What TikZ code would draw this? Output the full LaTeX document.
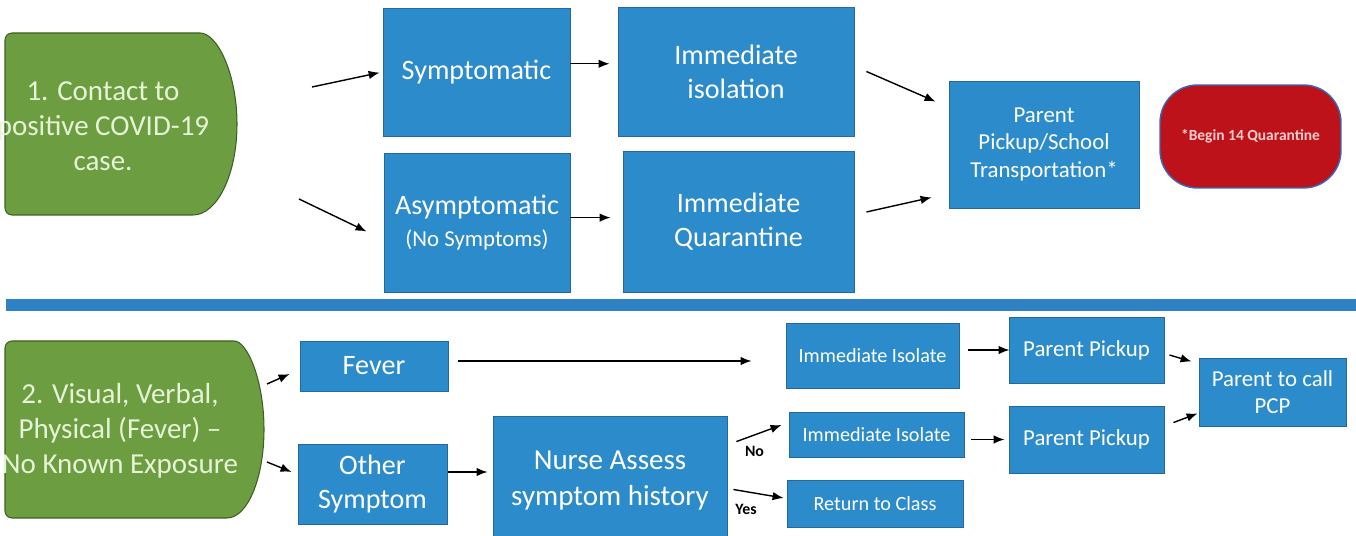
\documentclass[tikz,border=0pt]{standalone}
\usepackage{fontspec}
\setmainfont{Carlito}
\usepackage{xcolor}
\usepackage{tikz}
\usetikzlibrary{
	arrows.meta,shapes,calc
}

\definecolor{boxblue}{RGB}{44,139,203}
\definecolor{boxedge}{RGB}{36,104,158}
\definecolor{startgreen}{RGB}{108,157,64}
\definecolor{startedge}{RGB}{62,95,36}
\definecolor{greentext}{RGB}{230,243,214}
\definecolor{stopred}{RGB}{190,18,26}
\definecolor{stopedge}{RGB}{52,104,190}
\definecolor{stoptext}{RGB}{250,205,205}
\definecolor{barblue}{RGB}{46,130,196}

\begin{document}
\begin{tikzpicture}[x=0.02cm,y=-0.02cm,
	blk/.style={draw=boxedge,line width=0.5pt,fill=boxblue,text=white,
		inner sep=0pt,align=center,font=\fontsize{16}{19.5}\selectfont},
	blksmall/.style={blk,font=\fontsize{13}{15.6}\selectfont},
	blktiny/.style={blk,font=\fontsize{11.5}{14}\selectfont},
	start/.style={draw=startedge,line width=0.6pt,fill=startgreen},
	starttext/.style={text=greentext,align=center,inner sep=0pt,
		font=\fontsize{16.5}{20}\selectfont},
	lbl/.style={font=\fontsize{9}{11}\selectfont\bfseries,inner sep=0pt},
	>={Latex[length=2.2mm,width=1.7mm]}]
	\useasboundingbox (0,0) rectangle (1356,536);
	% start shapes
	\draw[start,rounded corners=4pt] (5,124) -- (5,33) -- (193,33)
		[sharp corners] arc[start angle=-90,end angle=90,x radius=44,y radius=91]
		[rounded corners=4pt] -- (5,215) -- cycle;
	\node[starttext] (contact) at (103,126) {1. Contact to\\positive COVID-19\\case.};
	\draw[start,rounded corners=4pt] (5,430) -- (5,341) -- (227,341)
		[sharp corners] arc[start angle=-90,end angle=90,x radius=37,y radius=88.5]
		[rounded corners=4pt] -- (5,518) -- cycle;
	\node[starttext] (visual) at (120,431) {2. Visual, Verbal,\\Physical (Fever) --\\No Known Exposure};
	% separator
	\fill[barblue] (6,299) rectangle (1356,311);
	% nodes, top row
	\node[blk,minimum width=3.74cm,minimum height=2.56cm] (symp) at (476.5,72) {Symptomatic};
	\node[blk,minimum width=4.72cm,minimum height=2.58cm] (isol) at (736,71.5) {Immediate\\isolation};
	\node[blk,minimum width=3.72cm,minimum height=2.78cm] (asymp) at (477,222.5)
		{Asymptomatic\\[-1pt]{\fontsize{13}{15.6}\selectfont(No Symptoms)}};
	\node[blk,minimum width=4.62cm,minimum height=2.82cm] (quar) at (738.5,221.5) {Immediate\\Quarantine};
	\node[blksmall,minimum width=3.8cm,minimum height=2.54cm] (pickup) at (1044,144.5)
		{Parent\\Pickup/School\\Transportation*};
	\node[draw=stopedge,line width=0.8pt,fill=stopred,text=stoptext,rounded corners=0.75cm,
		minimum width=3.62cm,minimum height=2.06cm,inner sep=0pt,
		font=\fontsize{8.8}{10}\selectfont\bfseries] (begin) at (1250.5,136.5) {*Begin 14 Quarantine};
	% nodes, bottom row
	\node[blk,minimum width=2.96cm,minimum height=1cm] (fever) at (374,366) {Fever};
	\node[blk,minimum width=2.98cm,minimum height=1.6cm] (other) at (372.5,484) {Other\\Symptom};
	\node[blk,minimum width=4.68cm,minimum height=2.58cm,font=\fontsize{16.5}{20}\selectfont] (nurse) at (610,480.5)
		{Nurse Assess\\symptom history};
	\node[blktiny,minimum width=3.46cm,minimum height=1.3cm] (iso1) at (872.5,355.5) {Immediate Isolate};
	\node[blktiny,minimum width=3.5cm,minimum height=0.9cm] (iso2) at (876.5,434.5) {Immediate Isolate};
	\node[blktiny,minimum width=3.52cm,minimum height=0.94cm] (ret) at (875,503.5) {Return to Class};
	\node[blksmall,minimum width=3.1cm,minimum height=1.32cm] (pp1) at (1086.5,350) {Parent Pickup};
	\node[blksmall,minimum width=3.1cm,minimum height=1.34cm] (pp2) at (1086.5,439.5) {Parent Pickup};
	\node[blksmall,minimum width=2.94cm,minimum height=1.36cm] (pcp) at (1272.5,392) {Parent to call\\PCP};
	% free arrow ends
	\coordinate (s1) at (312,87);
	\coordinate (s2) at (299,199);
	\coordinate (s3) at (267,384);
	\coordinate (s4) at (267,462);
	\coordinate (f1) at ([shift={(10,-5)}]fever.east);
	\coordinate (o1) at ([shift={(1,-12)}]other.east);
	%
	\path[->,line width=0.8pt]
	% from the start shapes
	(s1) edge[shorten >=0.06cm] (symp.west)
	(s2) edge ([shift={(-17,9)}]asymp.west)
	(s3) edge ([shift={(-10,8)}]fever.west)
	(s4) edge ([shift={(-6,-12)}]other.west)
	% top row
	(symp.5) edge[shorten >=0.16cm] (symp.5 -| isol.west)
	(asymp.3) edge[shorten >=0.24cm] (asymp.3 -| quar.west)
	([shift={(12,0)}]isol.east) edge ([shift={(-13,21)}]pickup.north west)
	([shift={(12,-9.5)}]quar.east) edge ([shift={(-17,-11)}]pickup.south west)
	% bottom row
	(f1) edge[shorten >=0.68cm] (f1 -| iso1.west)
	(o1) edge[shorten >=0.1cm] (o1 -| nurse.west)
	([shift={(9,26)}]nurse.north east) edge node[lbl,pos=0.4,below=6pt]{No} ([shift={(-7,-9.5)}]iso2.west)
	([shift={(6,9)}]nurse.east) edge node[lbl,pos=0.25,below=7pt]{Yes} ([shift={(-3,-5.5)}]ret.west)
	([shift={(9,-5.5)}]iso1.east) edge[shorten >=0.16cm] ([shift={(9,-5.5)}]iso1.east -| pp1.west)
	([xshift=0.14cm]iso2.east |- pp2.west) edge[shorten >=0.08cm] (pp2.west)
	([shift={(5,5)}]pp1.east) edge ([shift={(-7,4)}]pcp.north west)
	([shift={(9,17)}]pp2.north east) edge ([shift={(-1,-13)}]pcp.south west);
\end{tikzpicture}
\end{document}
